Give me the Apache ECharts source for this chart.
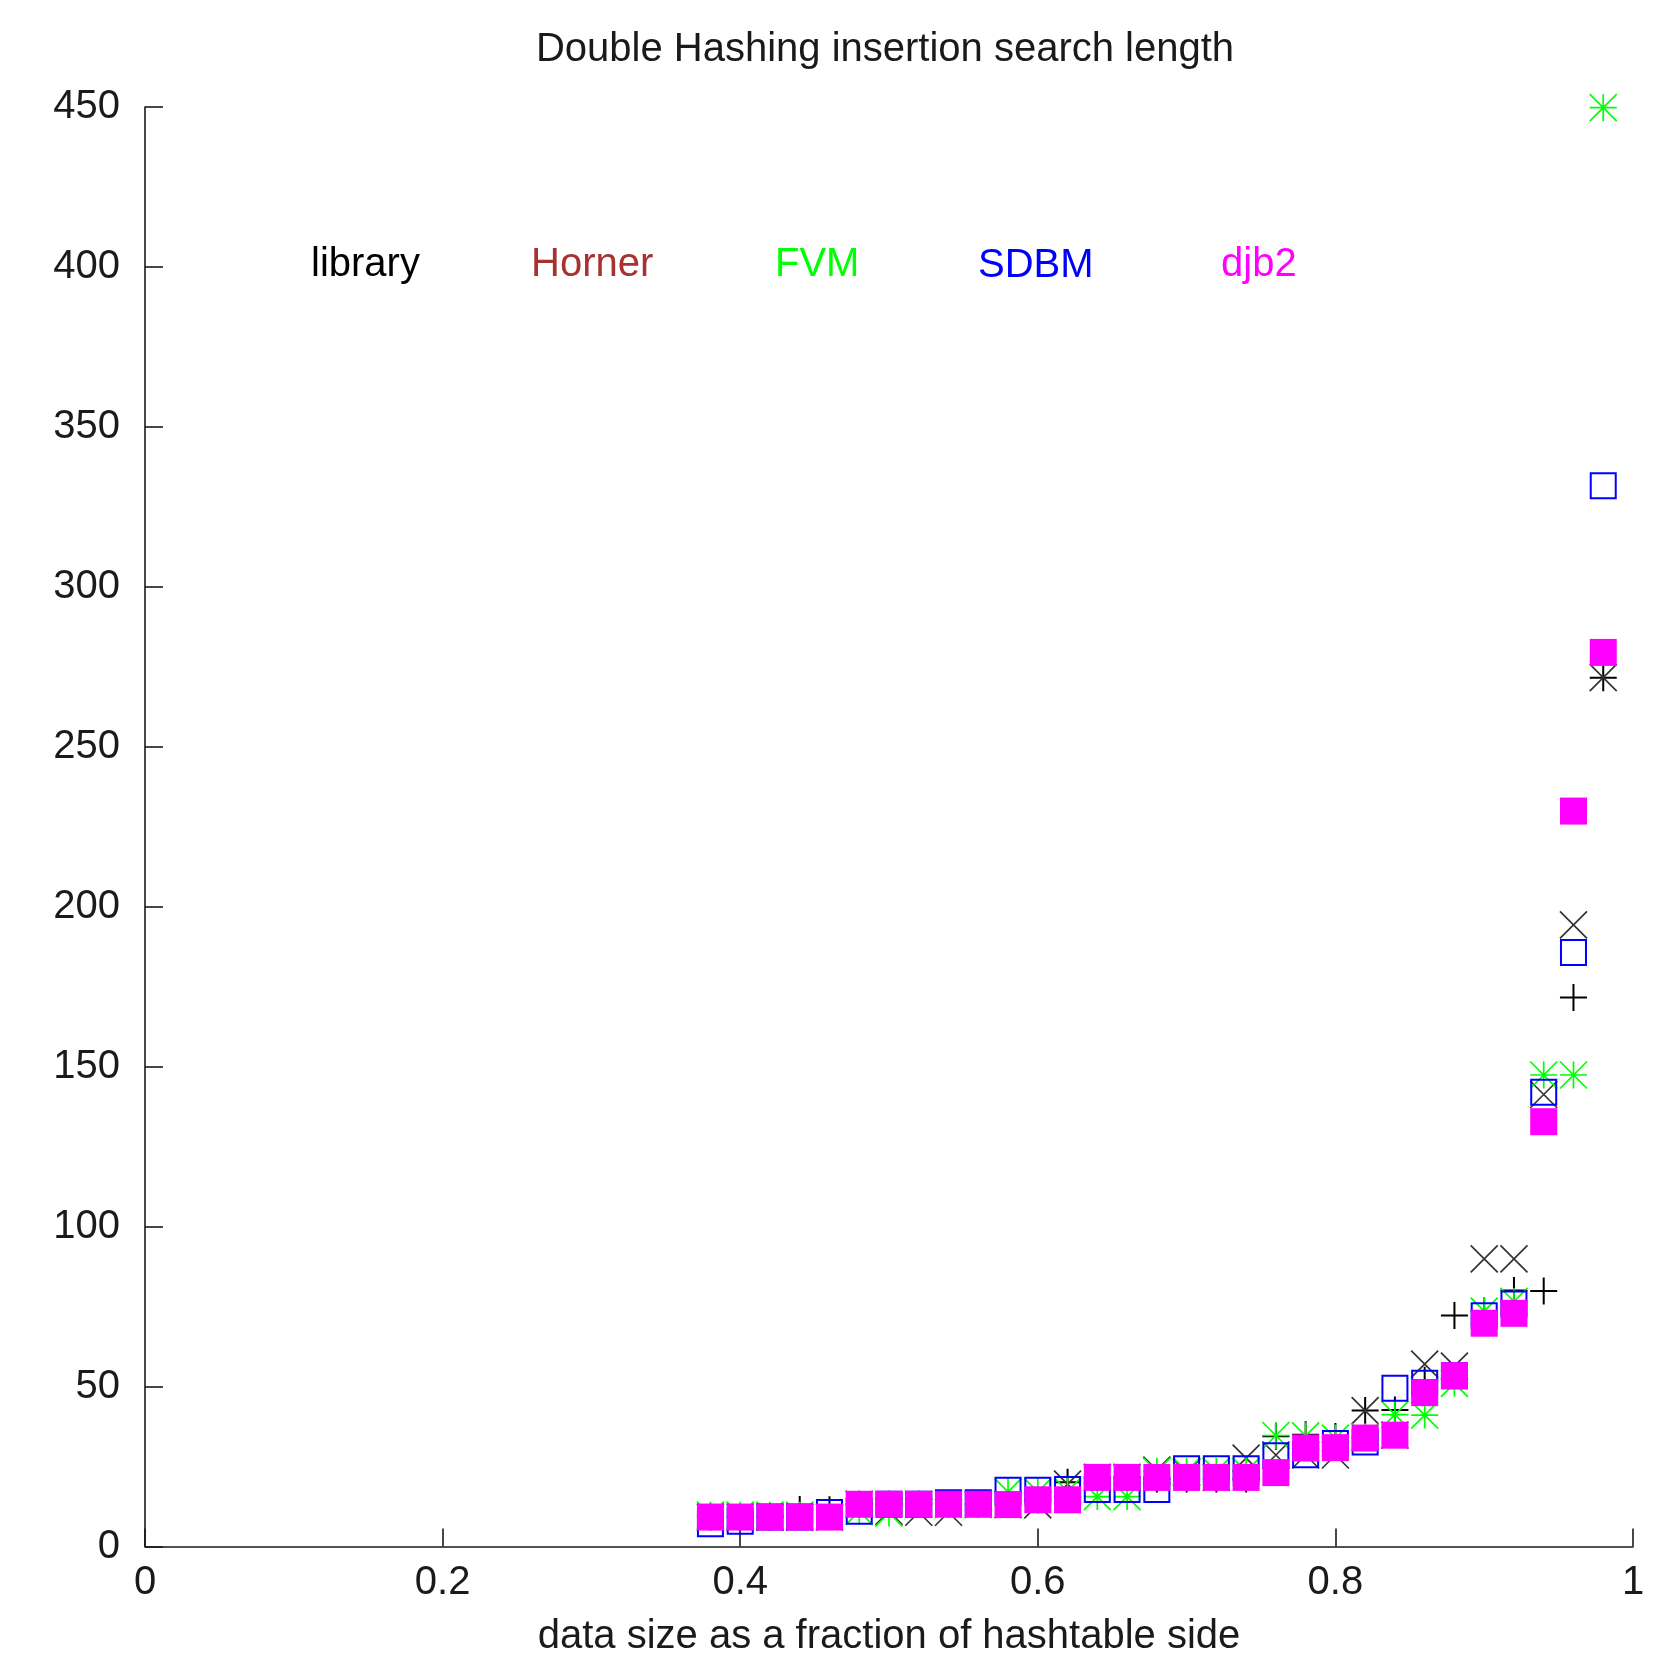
<!DOCTYPE html>
<html>
<head>
<meta charset="utf-8">
<title>Double Hashing insertion search length</title>
<script src="https://cdn.jsdelivr.net/npm/echarts@6/dist/echarts.min.js"></script>
<style>
  html, body { margin: 0; padding: 0; background: #fff; }
  #chart { width: 1671px; height: 1662px; }
</style>
</head>
<body>
<div id="chart"></div>
<script>
// Load factor (data size / table size) at which each measurement was taken
const loadFactors = [0.38, 0.40, 0.42, 0.44, 0.46, 0.48, 0.50, 0.52, 0.54, 0.56,
                     0.58, 0.60, 0.62, 0.64, 0.66, 0.68, 0.70, 0.72, 0.74, 0.76,
                     0.78, 0.80, 0.82, 0.84, 0.86, 0.88, 0.90, 0.92, 0.94, 0.96, 0.98];

// Average insertion search length per hash function
const libraryLen = [9.2, 9.2, 9.2, 11.6, 11.5, 13.2, 13.2, 13.2, 13.2, 13.2,
                    13.1, 14.6, 20.1, 21.6, 21.6, 21.1, 21.1, 21.1, 21.1, 34.5,
                    34.9, 34.4, 42.5, 42.7, 52.0, 72.2, 73.6, 80.0, 79.9, 171.6, 271.6];
const hornerLen  = [9.2, 9.2, 9.2, 9.2, 9.2, 13.2, 11.0, 10.7, 10.7, 13.2,
                    13.1, 13.0, 19.5, 21.6, 21.6, 23.9, 23.1, 21.6, 27.6, 28.6,
                    28.6, 28.6, 42.5, 34.8, 57.0, 56.4, 89.9, 89.9, 141.3, 194.3, 271.6];
const fvmLen     = [9.8, 9.8, 9.8, 9.8, 9.2, 11.0, 10.5, 13.2, 13.2, 13.2,
                    17.1, 17.1, 17.3, 15.6, 15.6, 23.5, 23.5, 23.5, 23.5, 34.7,
                    34.6, 33.9, 34.2, 41.2, 41.1, 51.0, 73.6, 76.6, 147.4, 147.4, 449.8];
const sdbmLen    = [7.1, 7.9, 9.2, 9.2, 10.6, 11.0, 13.2, 13.2, 13.7, 13.7,
                    17.6, 17.6, 17.8, 17.8, 17.8, 17.8, 24.3, 24.3, 24.3, 28.4,
                    28.7, 32.2, 32.7, 49.5, 51.0, 53.4, 72.1, 75.8, 142.0, 185.7, 331.6];
const djb2Len    = [9.2, 9.2, 9.2, 9.2, 9.2, 13.2, 13.2, 13.2, 13.2, 13.2,
                    13.1, 14.6, 14.6, 21.6, 21.6, 21.6, 21.6, 21.6, 21.6, 23.1,
                    30.8, 30.9, 33.9, 34.8, 48.1, 53.4, 69.8, 72.9, 132.8, 229.9, 279.5];

// Axis ticks
const xTicks = [0, 0.2, 0.4, 0.6, 0.8, 1];
const yTicks = [0, 50, 100, 150, 200, 250, 300, 350, 400, 450];

const FONT = '"Liberation Sans", Arial, sans-serif';
const FONT_SIZE = 40;
const TEXT = '#1a1a1a';

// Stroked point shapes
const PLUS  = 'path://M0,5 L10,5 M5,0 L5,10';
const CROSS = 'path://M0,0 L10,10 M10,0 L0,10';
const STAR  = 'path://M0,5 L10,5 M5,0 L5,10 M0,0 L10,10 M10,0 L0,10';

function pairs(ys) {
  return loadFactors.map((x, i) => [x, ys[i]]);
}

function strokeSeries(name, ys, symbol, color, width) {
  return {
    name, type: 'scatter', data: pairs(ys),
    symbol, symbolSize: 27,
    itemStyle: { color: 'transparent', borderColor: color, borderWidth: width, opacity: 1 },
    emphasis: { disabled: true }, silent: true
  };
}

const series = [
  strokeSeries('library', libraryLen, PLUS, '#000000', 2),
  strokeSeries('Horner', hornerLen, CROSS, '#333333', 1.7),
  strokeSeries('FVM', fvmLen, STAR, '#00ff00', 1.7),
  {
    name: 'SDBM', type: 'scatter', data: pairs(sdbmLen),
    symbol: 'rect', symbolSize: 25,
    itemStyle: { color: 'transparent', borderColor: '#0000ff', borderWidth: 2, opacity: 1 },
    emphasis: { disabled: true }, silent: true
  },
  {
    name: 'djb2', type: 'scatter', data: pairs(djb2Len),
    symbol: 'rect', symbolSize: 27,
    itemStyle: { color: '#ff00ff', opacity: 1 },
    emphasis: { disabled: true }, silent: true
  }
];

// Text-only key along the top of the plot
const keyEntries = [
  { name: 'library', left: 300, color: '#000000' },
  { name: 'Horner',  left: 520, color: '#a83232' },
  { name: 'FVM',     left: 764, color: '#00ff00' },
  { name: 'SDBM',    left: 967, color: '#0000ff' },
  { name: 'djb2',    left: 1211, color: '#ff00ff' }
];
const legends = keyEntries.map(k => ({
  data: [k.name], left: k.left, top: 240, orient: 'horizontal',
  itemWidth: 0, itemHeight: 40, itemGap: 0,
  itemStyle: { opacity: 0 }, selectedMode: false,
  textStyle: { color: k.color, fontSize: FONT_SIZE, fontFamily: FONT }
}));

const chart = echarts.init(document.getElementById('chart'), null, { renderer: 'canvas' });
chart.setOption({
  animation: false,
  backgroundColor: '#ffffff',
  title: {
    text: 'Double Hashing insertion search length',
    left: 880, top: 25, textAlign: 'center',
    textStyle: { fontSize: FONT_SIZE, fontWeight: 'normal', color: TEXT, fontFamily: FONT }
  },
  legend: legends,
  grid: { left: 145, right: 38, top: 107, bottom: 115.5, containLabel: false },
  xAxis: {
    type: 'value', min: xTicks[0], max: xTicks[xTicks.length - 1], interval: 0.2,
    name: 'data size as a fraction of hashtable side',
    nameLocation: 'middle', nameGap: 70,
    nameTextStyle: { fontSize: FONT_SIZE, color: TEXT, fontFamily: FONT },
    axisLine: { onZero: false, lineStyle: { color: '#1a1a1a', width: 1.6 } },
    axisTick: { inside: true, length: 18, lineStyle: { color: '#1a1a1a', width: 1.6 } },
    axisLabel: {
      margin: 16, fontSize: FONT_SIZE, color: TEXT, fontFamily: FONT,
      formatter: v => String(+v.toFixed(1))
    },
    splitLine: { show: false }
  },
  yAxis: {
    type: 'value', min: yTicks[0], max: yTicks[yTicks.length - 1], interval: 50,
    axisLine: { show: true, onZero: false, lineStyle: { color: '#1a1a1a', width: 1.6 } },
    axisTick: { show: true, inside: true, length: 18, lineStyle: { color: '#1a1a1a', width: 1.6 } },
    axisLabel: { margin: 25, fontSize: FONT_SIZE, color: TEXT, fontFamily: FONT },
    splitLine: { show: false }
  },
  series
});
</script>
</body>
</html>
